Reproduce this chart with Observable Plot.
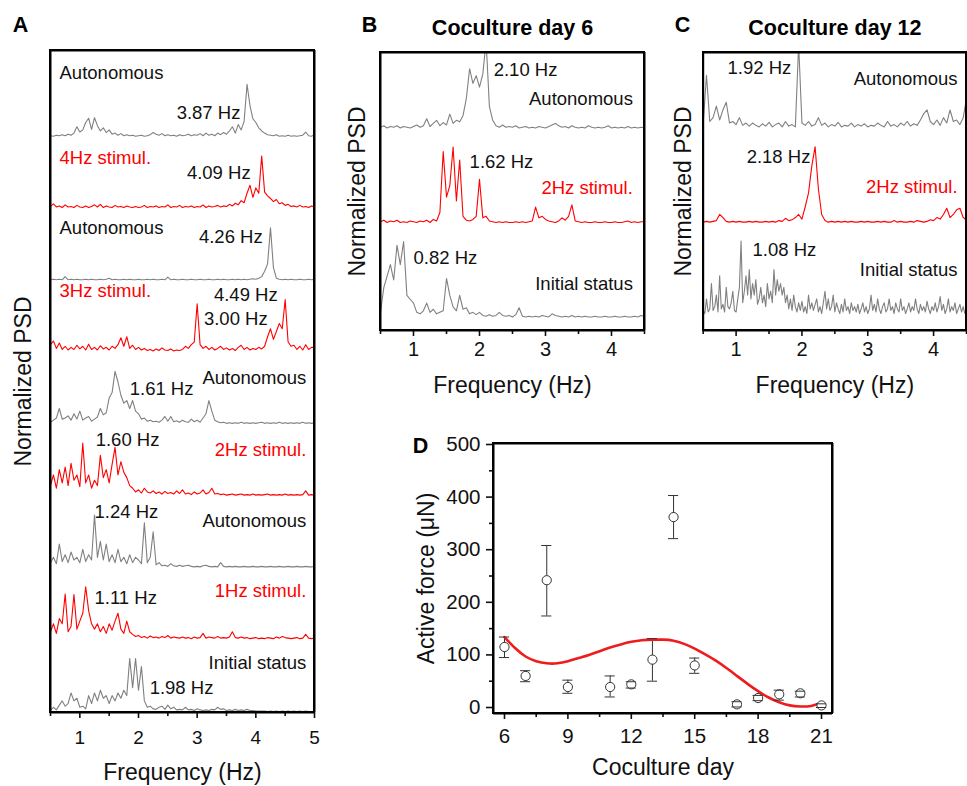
<!DOCTYPE html>
<html><head><meta charset="utf-8">
<script src="https://cdn.jsdelivr.net/npm/d3@7"></script>
<script src="https://cdn.jsdelivr.net/npm/@observablehq/plot@0.6"></script>
<style>
html,body{margin:0;padding:0;background:#fff;overflow:hidden}
#fig{position:relative;width:967px;height:786px;overflow:hidden;background:#fff}
#fig svg{position:absolute;overflow:visible}
#fig .box{position:absolute;box-sizing:border-box;border:2px solid #000;pointer-events:none;z-index:3}
</style></head><body><div id="fig"></div>
<script>
// ---------- Panel A: normalized PSD (% of peak), 0.5–5 Hz every 0.05 Hz, top to bottom ----------
const aKinds = ["auto","stim","auto","stim","auto","stim","auto","stim","auto"];
const aAuto1 = [3,2,4,3,5,3,6,4,8,20, 10,14,28,36,15,37,22,12,18,9, 14,6,8,4,7,3,5,3,4,2, 3,4,2,3,5,9,6,4,7,3, 5,3,4,2,5,3,4,6,3,5, 4,7,3,8,4,6,3,8,5,9, 6,12,20,8,24,14,30,100,60,35, 28,18,12,8,5,4,3,5,2,3, 2,4,2,3,2,3,4,10,3,2, 5];
const aStim4 = [5,10,4,6,3,8,4,5,3,7, 4,3,6,3,5,8,4,9,3,6, 4,3,7,4,5,3,6,4,3,5, 3,4,7,3,5,4,6,3,5,4, 8,3,5,4,7,3,5,4,6,3, 5,4,8,3,6,4,5,7,4,6, 5,9,6,11,8,16,12,30,45,22, 40,30,100,32,25,20,14,18,10,12, 7,9,5,6,4,7,4,5,3,6, 4];
const aAuto2 = [2,3,2,3,2,8,2,3,2,3, 2,2,3,2,3,2,2,3,2,3, 5,2,3,2,2,3,2,3,2,2, 3,2,2,3,2,3,2,2,3,2, 7,2,3,2,2,3,2,2,3,2, 2,3,2,2,3,2,2,3,2,3, 2,2,3,2,3,2,3,2,3,4, 3,5,8,18,32,100,25,5,3,2, 3,2,3,2,2,3,2,2,3,2, 3];
const aStim3 = [15,22,8,18,6,12,5,10,6,14, 7,12,5,16,6,10,5,13,7,10, 5,12,8,15,28,12,30,8,14,6, 10,5,8,4,6,3,7,4,9,5, 4,7,3,5,4,6,12,8,15,20, 92,15,8,12,6,10,5,8,12,6, 9,5,8,4,10,14,6,10,5,8, 6,10,7,12,30,45,25,40,55,45, 100,20,12,14,6,12,5,15,6,10, 10];
const aAuto3 = [4,8,12,30,10,12,16,8,20,10, 25,8,12,15,6,10,14,30,18,22, 50,60,100,80,55,40,45,30,45,25, 20,10,12,6,8,5,6,4,8,15, 6,15,5,7,4,8,5,4,10,5, 8,4,12,20,45,25,8,5,3,4, 2,3,2,3,2,4,2,3,2,3, 2,3,4,2,3,2,3,2,4,2, 3,2,3,2,3,2,4,2,3,2, 3];
const aStim2 = [20,40,15,50,25,55,20,62,30,40, 18,100,25,40,15,30,20,77,35,50, 25,60,92,40,65,45,35,20,15,8, 12,6,15,8,6,10,5,8,4,9, 5,7,4,10,5,12,4,6,3,8, 4,6,12,4,7,15,4,5,3,4, 2,3,4,2,3,4,2,3,2,4, 2,3,2,3,4,2,3,2,3,2, 4,2,3,2,3,2,3,10,2,3, 2];
const aAuto4 = [10,20,8,45,12,25,10,30,15,20, 10,35,12,25,15,100,20,50,15,45, 12,25,10,35,12,20,8,25,10,20, 15,8,85,10,20,68,6,10,4,5, 3,8,4,3,5,3,4,5,3,2, 3,2,4,5,3,2,3,2,10,3, 2,3,2,3,2,2,3,2,2,3, 2,2,3,2,2,3,2,2,3,2, 2,3,2,2,3,2,2,3,2,2, 3];
const aStim1 = [15,30,12,40,30,86,15,25,85,20, 35,50,100,55,30,20,30,15,25,12, 30,18,35,50,20,12,35,15,10,6, 8,4,6,3,7,4,5,3,6,4, 8,3,5,4,3,5,3,4,2,5, 3,4,12,3,5,4,3,6,3,4, 3,5,15,4,3,5,3,4,2,3, 4,2,3,2,4,3,2,5,3,6, 4,3,2,3,4,2,3,10,3,2, 3];
const aInitial = [2,8,3,12,20,10,15,35,20,25, 8,10,5,30,15,35,20,40,25,30, 15,30,20,35,25,40,30,100,45,100, 40,85,20,8,10,5,4,8,10,4, 12,5,8,3,4,3,8,3,4,2, 5,3,2,3,2,4,3,8,4,5, 2,3,2,4,2,3,2,4,2,2, 1,1,1,1,0,1,0,1,0,1, 0,1,0,1,0,1,0,1,0,0, 0];
const aLabelText  = ["Autonomous","3.87 Hz","4Hz stimul.","4.09 Hz","Autonomous","4.26 Hz","3Hz stimul.","4.49 Hz","3.00 Hz","Autonomous","1.61 Hz","1.60 Hz","2Hz stimul.","1.24 Hz","Autonomous","1Hz stimul.","1.11 Hz","Initial status","1.98 Hz"];
const aLabelTrace = [0,0,1,1,2,2,3,3,3,4,4,5,5,6,6,7,7,8,8];
const aLabelHz    = [0.654,2.65,0.654,2.825,0.654,3.03,0.654,3.286,3.115,4.86,1.85,1.27,4.86,1.25,4.86,4.86,1.25,4.86,2.19];
const aLabelLift  = [1.21,0.45,0.96,0.68,1.0,0.83,1.17,1.08,0.64,0.87,0.66,1.06,0.87,1.06,0.89,0.91,0.79,0.92,0.45];
const aLabelAlign = ["start","start","start","start","start","start","start","start","start","end","start","start","end","start","end","end","start","end","start"];
const aTicks = [1,2,3,4,5];
const aMinorTicks = [0.5,1.5,2.5,3.5,4.5];

// ---------- Panel B: coculture day 6, 0.5–4.5 Hz every 0.05 Hz ----------
const bKinds = ["auto","stim","auto"];
const bAuto = [3,5,2,4,3,5,2,4,3,2, 4,6,3,5,14,4,8,12,5,9, 6,20,8,12,10,18,40,79,60,70, 55,72,115,30,12,5,3,6,3,4, 3,5,2,3,4,2,3,2,4,3, 2,4,6,8,5,3,4,2,5,3, 2,3,2,5,3,2,3,2,3,5, 2,3,2,3,2,4,2,3,2,3, 2];
const bStim2 = [3,5,2,4,3,5,2,3,2,4, 3,2,4,3,5,2,6,4,15,94, 35,50,100,30,83,10,5,4,6,10, 58,8,10,4,3,2,3,2,3,2, 2,3,2,3,2,3,4,22,8,10, 6,4,3,2,4,8,5,10,25,4, 3,2,3,2,2,3,2,2,3,2, 2,3,2,2,3,4,2,3,2,3, 3];
const bInitial = [8,40,55,70,50,95,70,100,30,25, 20,8,6,10,20,8,12,6,8,10, 52,30,15,10,30,12,14,6,8,5, 8,4,3,5,3,4,8,4,3,4, 2,5,14,3,2,3,2,3,2,4, 3,2,6,4,3,2,3,2,4,2, 3,2,3,2,2,3,2,2,3,2, 2,3,2,2,3,2,2,3,2,4, 3];
const bLabelText  = ["2.10 Hz","Autonomous","1.62 Hz","2Hz stimul.","0.82 Hz","Initial status"];
const bLabelTrace = [0,0,1,1,2,2];
const bLabelHz    = [2.215,4.324,1.85,4.324,1.0,4.324];
const bLabelLift  = [0.77,0.39,0.81,0.47,0.79,0.45];
const bLabelAlign = ["start","end","start","end","start","end"];

// ---------- Panel C: coculture day 12 (initial status every 0.025 Hz) ----------
const cKinds = ["auto","stim","auto"];
const cAuto = [8,70,10,15,30,12,25,35,8,10, 6,15,5,8,4,8,5,3,7,4, 9,3,6,8,3,10,4,6,3,110, 8,5,10,4,6,15,5,8,3,6, 4,9,3,5,4,8,3,6,4,7, 3,5,4,8,5,3,10,4,6,3, 8,5,10,4,7,5,12,20,25,10, 6,12,5,15,8,25,10,12,6,15, 40];
const cStim2 = [2,3,2,3,4,12,8,3,2,3, 2,3,2,2,3,2,3,2,2,3, 2,3,2,4,3,7,4,5,8,12, 6,22,40,75,100,45,12,4,2,3, 2,3,2,3,2,3,2,2,3,2, 3,2,2,3,2,3,2,2,4,2, 3,2,2,3,2,4,3,2,3,5, 4,8,6,12,20,8,12,18,20,8, 5];
const cInitial = [10,6,25,8,12,45,10,15,30,8, 55,12,18,8,40,15,12,20,35,10, 8,25,40,100,20,35,55,30,63,25, 45,30,50,18,25,40,20,30,15,45, 25,35,20,63,30,50,35,45,30,40, 20,30,12,25,10,30,15,8,20,10, 22,8,15,6,30,12,20,10,18,25, 8,15,6,20,35,12,25,10,15,30, 8,20,12,6,18,8,25,10,15,6, 20,10,15,8,18,6,12,20,8,15, 6,12,30,10,18,8,25,12,6,15, 20,8,12,25,10,15,6,20,12,8, 25,10,15,6,12,20,8,15,10,25, 12,6,18,10,15,8,22,12,6,15, 10,20,8,15,28,10,18,6,12,25, 8,15,10,20,6,12,18,8,15,6, 10];
const cLabelText  = ["1.92 Hz","Autonomous","2.18 Hz","2Hz stimul.","1.08 Hz","Initial status"];
const cLabelTrace = [0,0,1,1,2,2];
const cLabelHz    = [0.87,4.364,1.16,4.364,1.25,4.364];
const cLabelLift  = [0.79,0.65,0.87,0.48,0.88,0.62];
const cLabelAlign = ["start","end","start","end","start","end"];
const bcTicks = [1,2,3,4];
const bcMinorTicks = [0.5,1.5,2.5,3.5,4.5];

// ---------- Panel D: active force ----------
const dDays  = [6,7,8,9,11,12,13,14,15,17,18,19,20,21];
const dForce = [115,60,242,39,39,44,91,362,80,6,18,25,27,4];
const dLow   = [95,49,174,27,20,37,50,321,65,1,13,14,20,0];
const dHigh  = [134,70,308,52,60,49,131,403,94,11,23,33,31,7];
const fitDays  = [6,6.5,7,7.5,8,8.5,9,9.5,10,10.5,11,11.5,12,12.5,13,13.5,14,14.5,15,15.5,16,16.5,17,17.5,18,18.5,19,19.5,20,20.5,21];
const fitForce = [134,113,97,88,84,84,88,94,100,107,114,120,125,128,129,129,127,121,112,101,89,75,60,45,31,19,10,4,2,3,9];
const dYTicks = [0,100,200,300,400,500];
const dYMinor = [50,150,250,350,450];
const dXTicks = [6,9,12,15,18,21];
const dXMinor = [7.5,10.5,13.5,16.5,19.5];

// ---------- drawing ----------
const FONT = "'Liberation Sans', Arial, Helvetica, sans-serif";
const GRAY = "#808080", RED = "#ff0000", INK = "#111";
const fig = document.getElementById("fig");
const noText = () => "";

// box around the plotting area, drawn through the x/y scales (domain edges)
function box(xd, yd) {
  return [
    Plot.ruleX(xd, {x: d => d, y1: yd[0], y2: yd[1], stroke: "#000", strokeWidth: 2}),
    Plot.ruleY(yd, {y: d => d, x1: xd[0], x2: xd[1], stroke: "#000", strokeWidth: 2})
  ];
}

function place(svg, left, top, w, h, m) {
  svg.style.left = left + "px";
  svg.style.top = top + "px";
  fig.appendChild(svg);
  // outline of the plotting area (panel frame)
  const b = document.createElement("div");
  b.className = "box";
  b.style.left = (left + m[0] - 1) + "px";
  b.style.top = (top + m[2] - 1) + "px";
  b.style.width = (w - m[0] - m[1] + 2) + "px";
  b.style.height = (h - m[2] - m[3] + 2) + "px";
  fig.appendChild(b);
}

function psdPanel(c) {
  const n = c.traces.length;
  const off = t => (n - 1 - t) * c.gap;
  const marks = [];
  marks.push(Plot.axisX(c.minor, {anchor: "bottom", tickSize: 4, strokeWidth: 1.6, tickFormat: noText, label: null}));
  marks.push(Plot.axisX(c.ticks, {anchor: "bottom", tickSize: 6, strokeWidth: 1.6, tickPadding: c.tickPad, fontSize: c.tickFont, label: null}));
  c.traces.forEach((vals, t) => {
    const step = (c.x1 - c.x0) / (vals.length - 1);
    const pts = vals.map((v, i) => ({hz: c.x0 + i * step, y: off(t) + v / 100}));
    marks.push(Plot.line(pts, {x: "hz", y: "y", stroke: c.kinds[t] === "stim" ? RED : GRAY, strokeWidth: 1.1, clip: true}));
  });
  const labels = c.labelText.map((text, i) => ({
    text, hz: c.labelHz[i], y: off(c.labelTrace[i]) + c.labelLift[i],
    align: c.labelAlign[i], red: /stimul/.test(text)
  }));
  for (const align of ["start", "end"]) for (const red of [false, true]) {
    marks.push(Plot.text(labels.filter(d => d.align === align && d.red === red),
      {x: "hz", y: "y", text: "text", textAnchor: align, lineAnchor: "middle", fill: red ? RED : INK, fontSize: 18.5}));
  }
  marks.push(Plot.text(["Frequency (Hz)"], {frameAnchor: "bottom", dy: c.xTitleDy, text: d => d, textAnchor: "middle", lineAnchor: "middle", fontSize: 23, fill: INK}));
  marks.push(Plot.text(["Normalized PSD"], {frameAnchor: "left", dx: c.yTitleDx, rotate: -90, text: d => d, textAnchor: "middle", lineAnchor: "middle", fontSize: 23, fill: INK}));
  marks.push(Plot.text([c.letter], {frameAnchor: "top-left", dx: c.letterDx, dy: c.letterDy, text: d => d, textAnchor: "middle", lineAnchor: "middle", fontSize: 21.5, fontWeight: "bold", fill: "#000"}));
  if (c.title) marks.push(Plot.text([c.title], {frameAnchor: "top", dy: -24, text: d => d, textAnchor: "middle", lineAnchor: "middle", fontSize: 21.5, fontWeight: "bold", fill: "#000"}));
  marks.push(...box([c.x0, c.xMax], c.yDomain));
  const svg = Plot.plot({
    width: c.width, height: c.height,
    marginLeft: c.m[0], marginRight: c.m[1], marginTop: c.m[2], marginBottom: c.m[3],
    x: {domain: [c.x0, c.xMax], axis: null},
    y: {domain: c.yDomain, axis: null},
    style: {fontFamily: FONT, fontSize: "18px", color: "#111", background: "transparent", overflow: "visible"},
    marks
  });
  place(svg, c.left, c.top, c.width, c.height, c.m);
}

psdPanel({
  traces: [aAuto1, aStim4, aAuto2, aStim3, aAuto3, aStim2, aAuto4, aStim1, aInitial],
  kinds: aKinds, gap: 1.354, x0: 0.5, x1: 5, xMax: 5, yDomain: [-0.019, 12.47],
  labelText: aLabelText, labelTrace: aLabelTrace, labelHz: aLabelHz, labelLift: aLabelLift, labelAlign: aLabelAlign,
  ticks: aTicks, minor: aMinorTicks, tickPad: 12, tickFont: 19,
  width: 330, height: 786, m: [50, 16, 50, 74], left: 0, top: 0,
  xTitleDy: 60, yTitleDx: -27, letter: "A", letterDx: -30, letterDy: -25
});

psdPanel({
  traces: [bAuto, bStim2, bInitial],
  kinds: bKinds, gap: 1.227, x0: 0.5, x1: 4.5, xMax: 4.5, yDomain: [-0.156, 3.455],
  labelText: bLabelText, labelTrace: bLabelTrace, labelHz: bLabelHz, labelLift: bLabelLift, labelAlign: bLabelAlign,
  ticks: bcTicks, minor: bcMinorTicks, tickPad: 5, tickFont: 20,
  width: 330, height: 400, m: [50, 16, 52, 70], left: 330, top: 0,
  xTitleDy: 55, yTitleDx: -23, letter: "B", letterDx: -11, letterDy: -27, title: "Coculture day 6"
});

psdPanel({
  traces: [cAuto, cStim2, cInitial],
  kinds: cKinds, gap: 1.227, x0: 0.5, x1: 4.5, xMax: 4.5, yDomain: [-0.16, 3.45],
  labelText: cLabelText, labelTrace: cLabelTrace, labelHz: cLabelHz, labelLift: cLabelLift, labelAlign: cLabelAlign,
  ticks: bcTicks, minor: bcMinorTicks, tickPad: 5, tickFont: 20,
  width: 317, height: 400, m: [52.7, 1, 52, 70], left: 650, top: 0,
  xTitleDy: 55, yTitleDx: -20, letter: "C", letterDx: -20.7, letterDy: -27, title: "Coculture day 12"
});

// Panel D
(function () {
  const pts = dDays.map((day, i) => ({day, f: dForce[i], lo: dLow[i], hi: dHigh[i]}));
  const fit = fitDays.map((day, i) => ({day, f: fitForce[i]}));
  const cap = 0.24;
  const xd = [5.48, 21.52], yd = [-11.4, 501.9];
  const m = [113, 18, 23, 73];
  const svg = Plot.plot({
    width: 470, height: 366, marginLeft: m[0], marginRight: m[1], marginTop: m[2], marginBottom: m[3],
    x: {domain: xd, axis: null},
    y: {domain: yd, axis: null},
    style: {fontFamily: FONT, fontSize: "20px", color: "#111", background: "transparent", overflow: "visible"},
    marks: [
      Plot.axisY(dYMinor, {anchor: "left", tickSize: 4, strokeWidth: 1.6, tickFormat: noText, label: null}),
      Plot.axisY(dYTicks, {anchor: "left", tickSize: 7, strokeWidth: 1.6, tickPadding: 6, fontSize: 20.5, label: null}),
      Plot.axisX(dXMinor, {anchor: "bottom", tickSize: 4, strokeWidth: 1.6, tickFormat: noText, label: null}),
      Plot.axisX(dXTicks, {anchor: "bottom", tickSize: 6, strokeWidth: 1.6, tickPadding: 9, fontSize: 20.5, label: null}),
      Plot.ruleX(pts, {x: "day", y1: "lo", y2: "hi", stroke: "#333", strokeWidth: 1}),
      Plot.line(fit, {x: "day", y: "f", curve: "natural", stroke: "#ee1c1c", strokeWidth: 2.6}),
      Plot.dot(pts, {x: "day", y: "f", r: 4.6, stroke: "#333", fill: "white", strokeWidth: 1}),
      Plot.ruleY(pts, {y: "lo", x1: d => d.day - cap, x2: d => d.day + cap, stroke: "#333", strokeWidth: 1}),
      Plot.ruleY(pts, {y: "hi", x1: d => d.day - cap, x2: d => d.day + cap, stroke: "#333", strokeWidth: 1}),
      Plot.text(["Coculture day"], {frameAnchor: "bottom", dy: 54, text: d => d, textAnchor: "middle", lineAnchor: "middle", fontSize: 23, fill: INK}),
      Plot.text(["Active force (\u03bcN)"], {frameAnchor: "left", dx: -67, rotate: -90, text: d => d, textAnchor: "middle", lineAnchor: "middle", fontSize: 23, fill: INK}),
      Plot.text(["D"], {frameAnchor: "top-left", dx: -73, dy: 3, text: d => d, textAnchor: "middle", lineAnchor: "middle", fontSize: 21.5, fontWeight: "bold", fill: "#000"}),
      ...box(xd, yd)
    ]
  });
  place(svg, 380, 420, 470, 366, m);
})();
</script>
</body></html>
